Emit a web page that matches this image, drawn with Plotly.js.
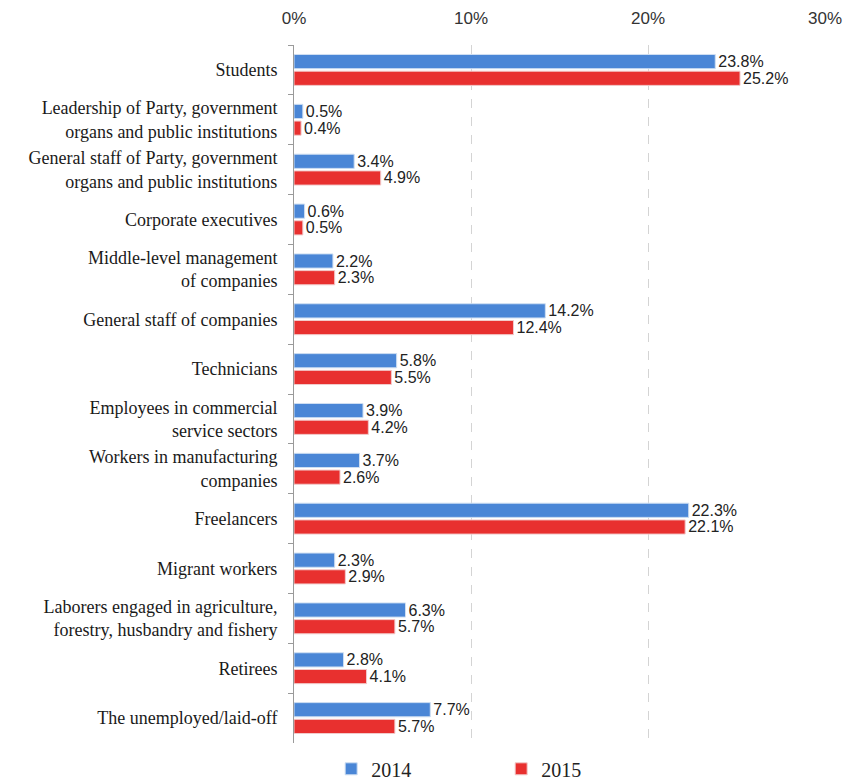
<!DOCTYPE html>
<html><head><meta charset="utf-8">
<script src="https://cdn.plot.ly/plotly-3.0.1.min.js"></script>
<style>html,body{margin:0;padding:0;background:#fff;}#chart{width:845px;height:783px;}</style>
</head><body><div id="chart"></div>
<script>
const categories = [
  "Students",
  "Leadership of Party, government<br>organs and public institutions",
  "General staff of Party, government<br>organs and public institutions",
  "Corporate executives",
  "Middle-level management<br>of companies",
  "General staff of companies",
  "Technicians",
  "Employees in commercial<br>service sectors",
  "Workers in manufacturing<br>companies",
  "Freelancers",
  "Migrant workers",
  "Laborers engaged in agriculture,<br>forestry, husbandry and fishery",
  "Retirees",
  "The unemployed/laid-off"
];
const values2014 = [23.8, 0.5, 3.4, 0.6, 2.2, 14.2, 5.8, 3.9, 3.7, 22.3, 2.3, 6.3, 2.8, 7.7];
const values2015 = [25.2, 0.4, 4.9, 0.5, 2.3, 12.4, 5.5, 4.2, 2.6, 22.1, 2.9, 5.7, 4.1, 5.7];
const xTickVals = [0, 10, 20, 30];
const xTickText = ["0%", "10%", "20%", "30%"];

const sans = "Liberation Sans, Arial, sans-serif";
const serif = "Liberation Serif, Times New Roman, serif";

const traces = [
  {type:'bar', orientation:'h', name:'2014', y:categories, x:values2014,
   marker:{color:'#4A86D6', line:{color:'#cfdff2', width:1}},
   text: values2014.map(v=>v.toFixed(1)+'%'), textposition:'outside', cliponaxis:false,
   constraintext:'none',
   textfont:{family:sans, size:16, color:'#222'}, hoverinfo:'skip'},
  {type:'bar', orientation:'h', name:'2015', y:categories, x:values2015,
   marker:{color:'#E8302F', line:{color:'#f2cccc', width:1}},
   text: values2015.map(v=>v.toFixed(1)+'%'), textposition:'outside', cliponaxis:false,
   constraintext:'none',
   textfont:{family:sans, size:16, color:'#222'}, hoverinfo:'skip'}
];

const layout = {
  width:845, height:783,
  margin:{l:294, r:20, t:45, b:40, autoexpand:false},
  paper_bgcolor:'#fff', plot_bgcolor:'#fff',
  barmode:'group', bargap:0.33, bargroupgap:0.15,
  showlegend:true,
  legend:{orientation:'h', x:0.07, xanchor:'left', y:-0.037, yanchor:'middle',
          entrywidth:125, entrywidthmode:'pixels',
          font:{family:serif, size:20, color:'#222'}, itemwidth:30, traceorder:'normal'},
  xaxis:{side:'top', range:[0,30], tickvals:xTickVals, ticktext:xTickText,
         tickfont:{family:sans, size:17, color:'#333'},
         ticklabelstandoff:17,
         showgrid:true, gridcolor:'#d4d4d4', griddash:'dash', gridwidth:1,
         zeroline:false, showline:false, ticks:'', fixedrange:true},
  yaxis:{autorange:'reversed', type:'category',
         tickfont:{family:serif, size:18, color:'#1a1a1a'},
         showline:true, linecolor:'#9a9a9a', linewidth:1,
         ticks:'outside', tickson:'boundaries', ticklen:5, tickcolor:'#9a9a9a',
         ticklabelstandoff:12, showgrid:false, zeroline:false, fixedrange:true}
};

Plotly.newPlot('chart', traces, layout, {displayModeBar:false, staticPlot:true});
</script></body></html>
